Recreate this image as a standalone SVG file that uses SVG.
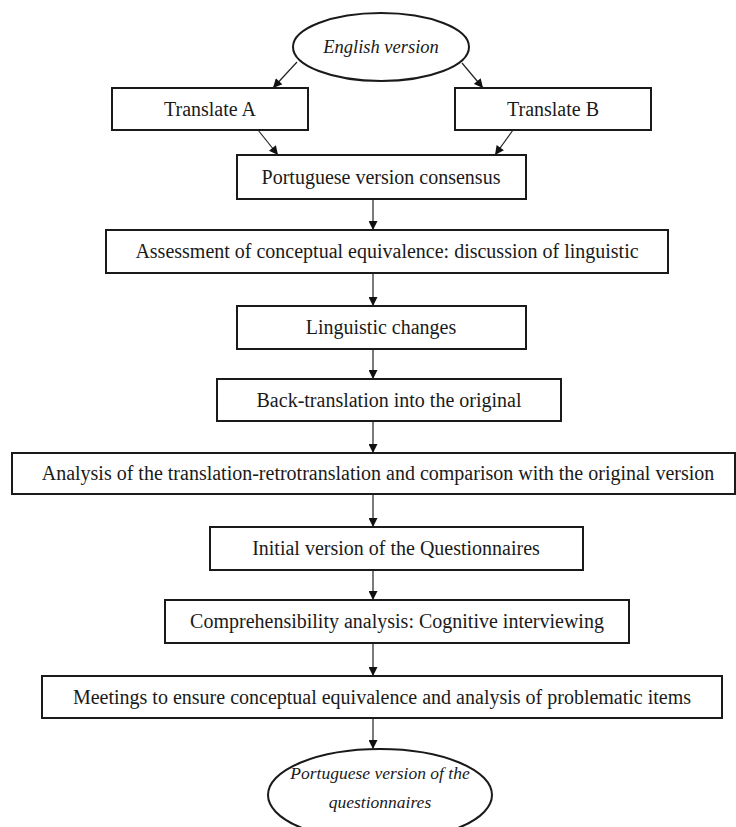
<svg xmlns="http://www.w3.org/2000/svg" width="736" height="827" viewBox="0 0 736 827">
<defs>
<marker id="ah" viewBox="0 0 10 10" refX="10" refY="5" markerWidth="10" markerHeight="9" markerUnits="userSpaceOnUse" orient="auto">
<path d="M0,0 L10,5 L0,10 z" fill="#111"/>
</marker>
<style>
.box{fill:#fff;stroke:#1a1a1a;stroke-width:2}
.t{font-family:"Liberation Serif","Times New Roman",serif;font-size:20px;fill:#1a1a1a;text-anchor:middle}
.it{font-style:italic;font-size:18.5px}
.sm{font-size:17.5px}
.c{fill:none;stroke:#222;stroke-width:1.2;marker-end:url(#ah)}
</style>
</defs>
<rect width="736" height="827" fill="#fff"/>
<g id="connectors">
<line class="c" x1="297" y1="62" x2="273" y2="88"/>
<line class="c" x1="462" y1="63" x2="483" y2="88"/>
<line class="c" x1="258" y1="130" x2="278" y2="155"/>
<line class="c" x1="513" y1="130" x2="495" y2="155"/>
<line class="c" x1="373" y1="199" x2="373" y2="230"/>
<line class="c" x1="373" y1="273" x2="373" y2="306"/>
<line class="c" x1="373" y1="349" x2="373" y2="379"/>
<line class="c" x1="373" y1="421" x2="373" y2="453"/>
<line class="c" x1="373" y1="494" x2="373" y2="527"/>
<line class="c" x1="373" y1="570" x2="373" y2="600"/>
<line class="c" x1="373" y1="643" x2="373" y2="676"/>
<line class="c" x1="373" y1="718" x2="373" y2="749"/>
</g>
<g id="english">
<ellipse class="box" cx="381" cy="47" rx="88" ry="34"/>
<text class="t it" x="381" y="53">English version</text>
</g>
<g id="translateA">
<rect class="box" x="112" y="88" width="196" height="42"/>
<text class="t" x="210" y="116">Translate A</text>
</g>
<g id="translateB">
<rect class="box" x="455" y="88" width="196" height="42"/>
<text class="t" x="553" y="116">Translate B</text>
</g>
<g id="consensus">
<rect class="box" x="237" y="155" width="289" height="44"/>
<text class="t" x="381" y="184">Portuguese version consensus</text>
</g>
<g id="assessment">
<rect class="box" x="106" y="230" width="562" height="43"/>
<text class="t" x="387" y="258">Assessment of conceptual equivalence: discussion of linguistic</text>
</g>
<g id="linguistic">
<rect class="box" x="237" y="306" width="289" height="43"/>
<text class="t" x="381" y="334">Linguistic changes</text>
</g>
<g id="backtranslation">
<rect class="box" x="217" y="379" width="344" height="42"/>
<text class="t" x="389" y="407">Back-translation into the original</text>
</g>
<g id="analysis">
<rect class="box" x="12" y="453" width="723" height="41"/>
<text class="t" x="378" y="480">Analysis of the translation-retrotranslation and comparison with the original version</text>
</g>
<g id="initial">
<rect class="box" x="210" y="527" width="373" height="43"/>
<text class="t" x="396" y="555">Initial version of the Questionnaires</text>
</g>
<g id="comprehensibility">
<rect class="box" x="165" y="600" width="464" height="43"/>
<text class="t" x="397" y="628">Comprehensibility analysis: Cognitive interviewing</text>
</g>
<g id="meetings">
<rect class="box" x="42" y="676" width="680" height="42"/>
<text class="t" x="382" y="704">Meetings to ensure conceptual equivalence and analysis of problematic items</text>
</g>
<g id="portuguese-final">
<ellipse class="box" cx="380" cy="795" rx="112" ry="46"/>
<text class="t it sm" x="380" y="779">Portuguese version of the</text>
<text class="t it sm" x="380" y="808">questionnaires</text>
</g>
</svg>
